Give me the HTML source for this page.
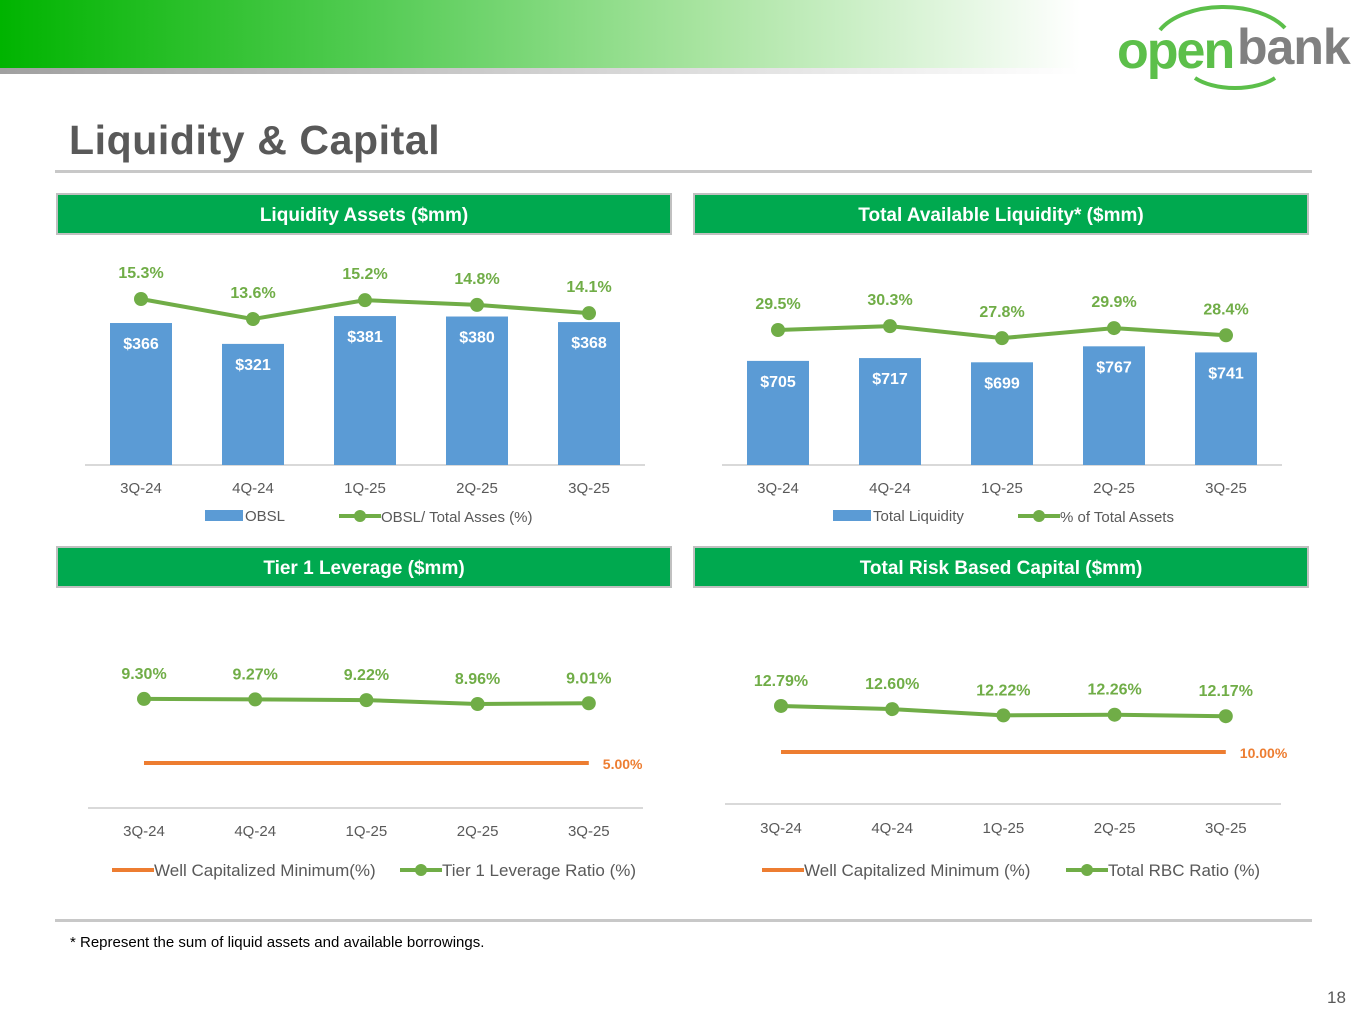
<!DOCTYPE html>
<html><head><meta charset="utf-8"><style>
html,body{margin:0;padding:0;width:1365px;height:1024px;overflow:hidden;background:#fff;font-family:"Liberation Sans",sans-serif}
svg{position:absolute;left:0;top:0}
</style></head><body>
<svg id="s" width="1365" height="1024" viewBox="0 0 1365 1024" xmlns="http://www.w3.org/2000/svg">
<defs>
<linearGradient id="hg" x1="0" x2="1" y1="0" y2="0">
<stop offset="0" stop-color="#00b400"/><stop offset="0.35" stop-color="#55cc55"/><stop offset="0.65" stop-color="#a8e4a0"/><stop offset="1" stop-color="#ffffff"/>
</linearGradient>
<linearGradient id="hg2" x1="0" x2="1" y1="0" y2="0">
<stop offset="0" stop-color="#a0a0a0"/><stop offset="1" stop-color="#ffffff"/>
</linearGradient>
</defs>
<rect x="0" y="0" width="1080" height="68" fill="url(#hg)"/>
<rect x="0" y="68" width="1080" height="6" fill="url(#hg2)"/>
<g>
<path d="M1160 30 A70 40 0 0 1 1285 28" fill="none" stroke="#5cbf4a" stroke-width="4"/>
<path d="M1195 78 A50 25 0 0 0 1275 78" fill="none" stroke="#5cbf4a" stroke-width="4"/>
<text x="1117" y="68" font-size="52" font-weight="bold" fill="#5cbf4a" letter-spacing="-2">open</text>
<text x="1237" y="64" font-size="50" font-weight="bold" fill="#808080" letter-spacing="-1">bank</text>
</g>
<text x="69" y="154" font-size="41" font-weight="bold" fill="#595959" letter-spacing="0.6">Liquidity &amp; Capital</text>
<rect x="55" y="170" width="1257" height="3" fill="#c8c8c8"/>
<rect x="55" y="919" width="1257" height="3" fill="#c8c8c8"/>
<text x="70" y="947" font-size="15" fill="#000">* Represent the sum of liquid assets and available borrowings.</text>
<text x="1327" y="1003" font-size="17" fill="#595959">18</text>
<g id="panels"></g>
</svg>
<script>
const categories = ["3Q-24","4Q-24","1Q-25","2Q-25","3Q-25"];
const obslValues = [366,321,381,380,368];
const obslPct = [15.3,13.6,15.2,14.8,14.1];
const liqValues = [705,717,699,767,741];
const liqPct = [29.5,30.3,27.8,29.9,28.4];
const tier1Ratio = [9.30,9.27,9.22,8.96,9.01];
const tier1Min = 5.00;
const rbcRatio = [12.79,12.60,12.22,12.26,12.17];
const rbcMin = 10.00;

const NS="http://www.w3.org/2000/svg";
const root=document.getElementById('panels');
function mk(tag,attrs,parent,txt){const e=document.createElementNS(NS,tag);for(const k in attrs)e.setAttribute(k,attrs[k]);if(txt!==undefined)e.textContent=txt;(parent||root).appendChild(e);return e;}
const GREEN="#70ad47",BLUE="#5b9bd5",ORANGE="#ed7d31",LAB="#595959";
const CF='"Liberation Sans",sans-serif';

function header(x,title,y){
  const r=mk('rect',{x:x,y:y,width:614,height:40,fill:"#00a94f",stroke:"#c0c0c0","stroke-width":2});
  
  
  const t=mk('text',{x:x+307,y:y+27,"text-anchor":"middle","font-size":19,"font-weight":"bold",fill:"#fff"},root,title);
  
  
}
header(57,"Liquidity Assets ($mm)",194);
header(694,"Total Available Liquidity* ($mm)",194);
header(57,"Tier 1 Leverage ($mm)",547);
header(694,"Total Risk Based Capital ($mm)",547);

function xAxis(x0,step){return i=>x0+i*step;}
function lin(v0,y0,k){return v=>y0-(v-v0)*k;}

function axisAndTicks(ax1,ax2,ay,xs,ty){
  const a=mk('line',{x1:ax1,x2:ax2,y1:ay,y2:ay,stroke:"#d9d9d9","stroke-width":2});
  
  
  categories.forEach((c,i)=>{
    const t=mk('text',{x:xs(i),y:ty,"text-anchor":"middle","font-size":15,fill:LAB,"font-family":CF},root,c);
    
    
  });
}
function bars(vals,xs,ys,base,fmt){
  vals.forEach((v,i)=>{
    const top=ys(v);
    const b=mk('rect',{x:xs(i)-31,y:top,width:62,height:base-top,fill:BLUE});
    
    
    const t=mk('text',{x:xs(i),y:top+26,"text-anchor":"middle","font-size":16,"font-weight":"bold",fill:"#fff"},root,fmt(v));
    
    
  });
}
function line(vals,xs,ys,fmt,dy,color){
  const p=mk('polyline',{points:vals.map((v,i)=>xs(i)+","+ys(v)).join(" "),fill:"none",stroke:color,"stroke-width":4});
  
  
  vals.forEach((v,i)=>{
    const c=mk('circle',{cx:xs(i),cy:ys(v),r:7,fill:color});
    
    
    const t=mk('text',{x:xs(i),y:ys(v)+dy,"text-anchor":"middle","font-size":16,"font-weight":"bold",fill:color},root,fmt(v));
    
    
  });
}
function minLine(v,xs,ys,color){
  const l=mk('line',{x1:xs(0),x2:xs(4),y1:ys(v),y2:ys(v),stroke:color,"stroke-width":4});
  
  
  const t=mk('text',{x:xs(4)+14,y:ys(v)+6,"font-size":14,"font-weight":"bold",fill:color},root,v.toFixed(2)+"%");
  
  
}
function legendBar(x,y,label){
  const r=mk('rect',{x:x,y:y-6,width:38,height:11,fill:BLUE});
  
  
  const t=mk('text',{x:x+40,y:y+5,"font-size":15,fill:LAB},root,label);
  
  
}
function legendLine(x,y,label,color,dot,fs){
  const l=mk('line',{x1:x,x2:x+42,y1:y,y2:y,stroke:color,"stroke-width":4});
  
  
  if(dot){const c=mk('circle',{cx:x+21,cy:y,r:6,fill:color});}
  const t=mk('text',{x:x+42,y:y+6,"font-size":fs,fill:LAB},root,label);
  
  
}

// Chart 1
{const xs=xAxis(141,112),yb=v=>465-(v-60)*0.464,yl=lin(15.3,299,11.8);
 axisAndTicks(85,645,465,xs,493);
 bars(obslValues,xs,yb,465,v=>"$"+v);
 line(obslPct,xs,yl,v=>v.toFixed(1)+"%",-21,GREEN);
 legendBar(205,516,"OBSL");
 legendLine(339,516,"OBSL/ Total Asses (%)",GREEN,true,15);}
// Chart 2
{const xs=xAxis(778,112),yb=v=>465-(v-262)*0.235,yl=lin(29.5,330,4.8);
 axisAndTicks(722,1282,465,xs,493);
 bars(liqValues,xs,yb,465,v=>"$"+v);
 line(liqPct,xs,yl,v=>v.toFixed(1)+"%",-21,GREEN);
 legendBar(833,516,"Total Liquidity");
 legendLine(1018,516,"% of Total Assets",GREEN,true,15);}
// Chart 3
{const xs=xAxis(144,111.2),yl=lin(5,763,14.9);
 axisAndTicks(88,643,808,xs,836);
 minLine(tier1Min,xs,yl,ORANGE);
 line(tier1Ratio,xs,yl,v=>v.toFixed(2)+"%",-20,GREEN);
 legendLine(112,870,"Well Capitalized Minimum(%)",ORANGE,false,17);
 legendLine(400,870,"Tier 1 Leverage Ratio (%)",GREEN,true,17);}
// Chart 4
{const xs=xAxis(781,111.2),yl=lin(10,752,16.5);
 axisAndTicks(725,1281,804,xs,833);
 minLine(rbcMin,xs,yl,ORANGE);
 line(rbcRatio,xs,yl,v=>v.toFixed(2)+"%",-20,GREEN);
 legendLine(762,870,"Well Capitalized Minimum (%)",ORANGE,false,17);
 legendLine(1066,870,"Total RBC Ratio (%)",GREEN,true,17);}
</script>
</body></html>
